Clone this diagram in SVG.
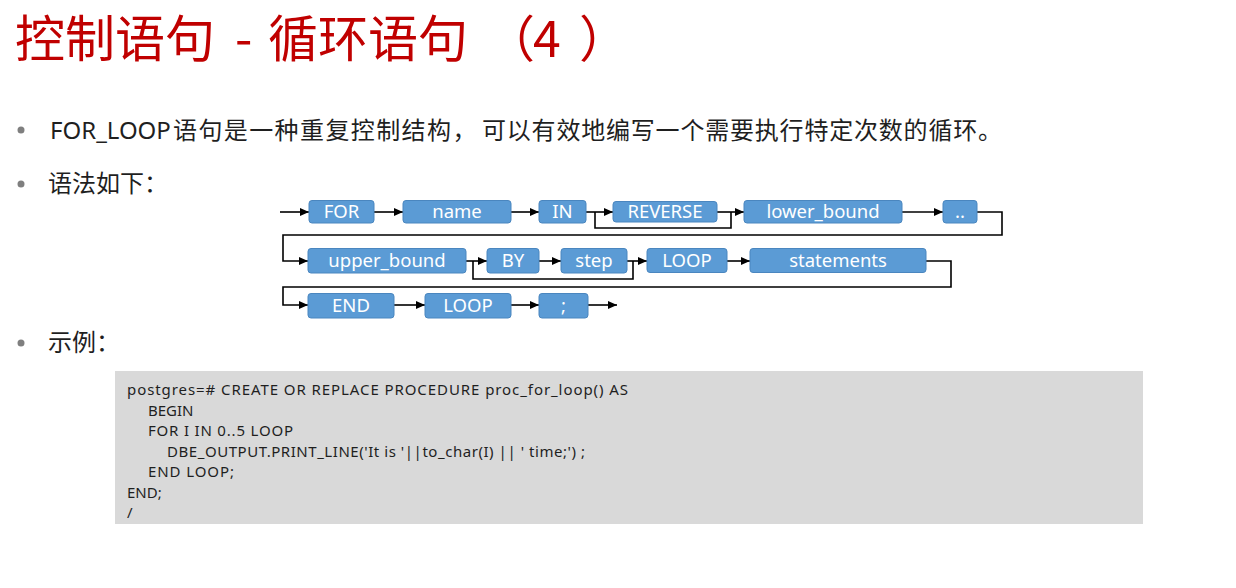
<svg xmlns="http://www.w3.org/2000/svg" width="1236" height="588" viewBox="0 0 1236 588">
<style>
.title{font-family:"Noto Sans CJK SC","Noto Sans",sans-serif;font-size:50px;fill:#c00000}
.body{font-family:"Noto Sans","Noto Sans CJK SC",sans-serif;font-size:24px;fill:#1f1f1f}
.dot{fill:#7f7f7f}
.code{font-family:"Noto Sans","Noto Sans CJK SC",sans-serif;font-size:15px;fill:#1f1f1f}
.box{fill:#5b9bd5;stroke:#4a86bf;stroke-width:1}
.lbl{font-family:"Noto Sans","Noto Sans CJK SC",sans-serif;font-size:18.5px;fill:#ffffff;text-anchor:middle}
.conn{fill:none;stroke:#000;stroke-width:1.6}
</style>
<defs>
<marker id="arr" markerUnits="userSpaceOnUse" markerWidth="10" markerHeight="8" refX="9" refY="4" orient="auto">
<path d="M0,0 L9,4 L0,8 z" fill="#000"/>
</marker>
</defs>
<rect width="1236" height="588" fill="#ffffff"/>
<g id="title">
<text class="title" x="15" y="57">控制语句</text>
<text class="title" x="235" y="57">-</text>
<text class="title" x="268" y="57">循环语句</text>
<text class="title" x="485" y="57">（</text>
<text class="title" x="533" y="57">4</text>
<text class="title" x="579" y="57">）</text>
</g>
<g id="bullets">
<circle class="dot" cx="21" cy="130" r="3.5"/>
<text class="body" y="139"><tspan x="50">FOR_LOOP</tspan><tspan x="173" letter-spacing="1.4">语句是一种重复控制结构，</tspan><tspan x="482" letter-spacing="0.8">可以有效地编写一个需要执行特定次数的循环。</tspan></text>
<circle class="dot" cx="21" cy="184" r="3.5"/>
<text class="body" x="48" y="192">语法如下：</text>
<circle class="dot" cx="21" cy="343" r="3.5"/>
<text class="body" x="48" y="351">示例：</text>
</g>
<g id="connectors">
<path class="conn" d="M280,212 H309" marker-end="url(#arr)"/>
<path class="conn" d="M374,212 H403" marker-end="url(#arr)"/>
<path class="conn" d="M511,212 H539" marker-end="url(#arr)"/>
<path class="conn" d="M586,212 H613" marker-end="url(#arr)"/>
<path class="conn" d="M595,212 V228 H731 V212"/>
<path class="conn" d="M717,212 H744" marker-end="url(#arr)"/>
<path class="conn" d="M902,212 H943" marker-end="url(#arr)"/>
<path class="conn" d="M977,212 H1002 V235 H283 V261 H308" marker-end="url(#arr)"/>
<path class="conn" d="M466,261 H487" marker-end="url(#arr)"/>
<path class="conn" d="M473,261 V279 H633 V261"/>
<path class="conn" d="M539,261 H561" marker-end="url(#arr)"/>
<path class="conn" d="M627,261 H647" marker-end="url(#arr)"/>
<path class="conn" d="M727,261 H750" marker-end="url(#arr)"/>
<path class="conn" d="M926,261 H951 V287 H283 V305 H308" marker-end="url(#arr)"/>
<path class="conn" d="M394,305 H425" marker-end="url(#arr)"/>
<path class="conn" d="M511,305 H539" marker-end="url(#arr)"/>
<path class="conn" d="M588,305 H617" marker-end="url(#arr)"/>
</g>
<g id="n-for"><rect class="box" x="309" y="200.5" width="65" height="22.5" rx="3"/><text class="lbl" x="341.5" y="218">FOR</text></g>
<g id="n-name"><rect class="box" x="403" y="200.5" width="108" height="22.5" rx="3"/><text class="lbl" x="457" y="218">name</text></g>
<g id="n-in"><rect class="box" x="539" y="200.5" width="47" height="22.5" rx="3"/><text class="lbl" x="562.5" y="218">IN</text></g>
<g id="n-reverse"><rect class="box" x="613" y="201.5" width="104" height="20.5" rx="3"/><text class="lbl" x="665" y="218">REVERSE</text></g>
<g id="n-lower"><rect class="box" x="744" y="200.5" width="158" height="22.5" rx="3"/><text class="lbl" x="823" y="218">lower_bound</text></g>
<g id="n-dots"><rect class="box" x="943" y="200.5" width="34" height="22.5" rx="3"/><text class="lbl" x="960" y="218">..</text></g>
<g id="n-upper"><rect class="box" x="308" y="248.5" width="158" height="24.5" rx="3"/><text class="lbl" x="387" y="267">upper_bound</text></g>
<g id="n-by"><rect class="box" x="487" y="248.5" width="52" height="24.5" rx="3"/><text class="lbl" x="513" y="267">BY</text></g>
<g id="n-step"><rect class="box" x="561" y="248.5" width="66" height="24.5" rx="3"/><text class="lbl" x="594" y="267">step</text></g>
<g id="n-loop1"><rect class="box" x="647" y="248.5" width="80" height="24" rx="3"/><text class="lbl" x="687" y="267">LOOP</text></g>
<g id="n-statements"><rect class="box" x="750" y="248.5" width="176" height="24" rx="3"/><text class="lbl" x="838" y="267">statements</text></g>
<g id="n-end"><rect class="box" x="308" y="293.5" width="86" height="24.5" rx="3"/><text class="lbl" x="351" y="312">END</text></g>
<g id="n-loop2"><rect class="box" x="425" y="293.5" width="86" height="24.5" rx="3"/><text class="lbl" x="468" y="312">LOOP</text></g>
<g id="n-semi"><rect class="box" x="539" y="293.5" width="49" height="24.5" rx="3"/><text class="lbl" x="563.5" y="312">;</text></g>
<g id="code">
<rect x="115" y="371" width="1028" height="153" fill="#d9d9d9"/>
<text class="code" x="127" y="395" textLength="501">postgres=# CREATE OR REPLACE PROCEDURE proc_for_loop() AS</text>
<text class="code" x="148" y="415.5">BEGIN</text>
<text class="code" x="148" y="436" textLength="145">FOR I IN 0..5 LOOP</text>
<text class="code" x="167" y="456.5" textLength="418">DBE_OUTPUT.PRINT_LINE('It is '||to_char(I) || ' time;') ;</text>
<text class="code" x="148" y="477" textLength="86">END LOOP;</text>
<text class="code" x="127" y="497.5">END;</text>
<text class="code" x="127" y="518">/</text>
</g>
</svg>
